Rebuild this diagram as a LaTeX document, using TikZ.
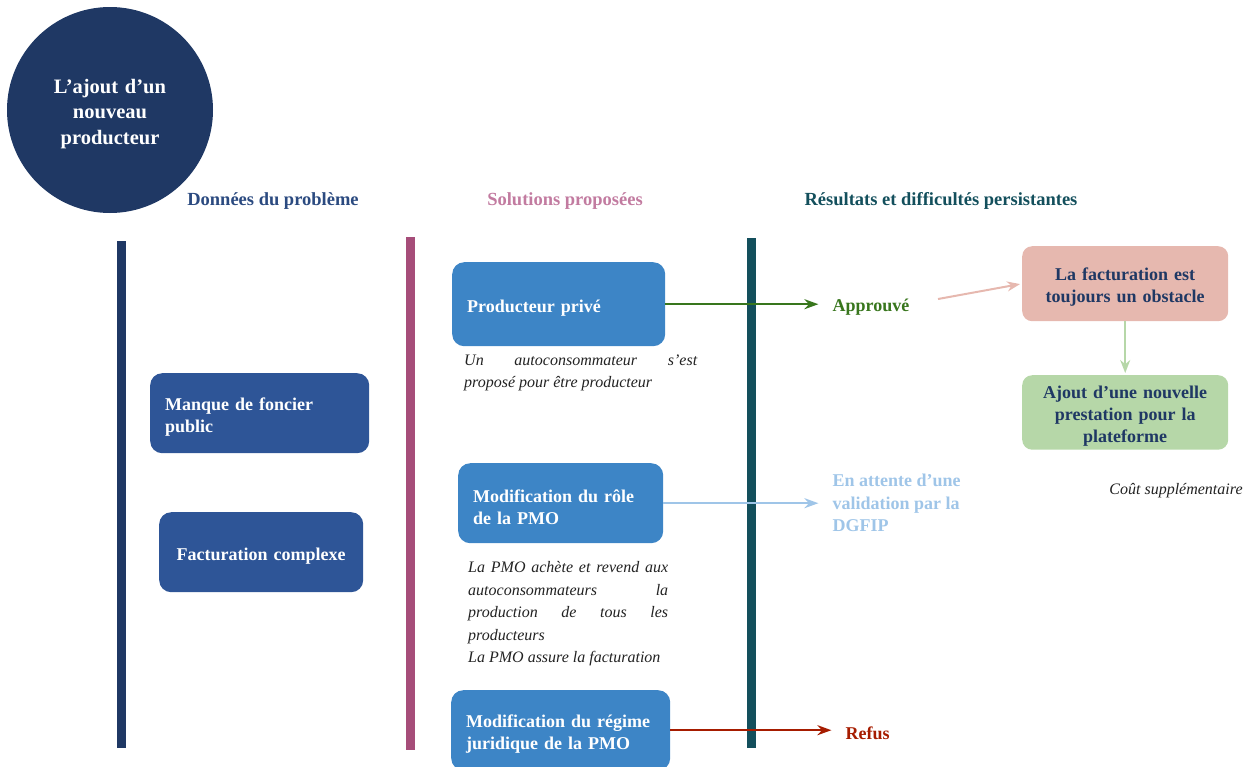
\documentclass[tikz,border=0pt]{standalone}
\usepackage{fontspec}
\setmainfont{Liberation Serif}
\usepackage{xcolor}
\usepackage{tikz}
\usetikzlibrary{arrows.meta, positioning}
\definecolor{pmnavy}{HTML}{1F3864}
\definecolor{pmhead}{HTML}{2B4A80}
\definecolor{pmblue}{HTML}{2E5597}
\definecolor{pmsky}{HTML}{3D85C6}
\definecolor{pmpink}{HTML}{A64D79}
\definecolor{pmrose}{HTML}{C27BA0}
\definecolor{pmteal}{HTML}{134F5C}
\definecolor{pmgreen}{HTML}{38761D}
\definecolor{pmlight}{HTML}{9FC5E8}
\definecolor{pmred}{HTML}{A61C00}
\definecolor{pmsalmon}{HTML}{E6B8AF}
\definecolor{pmmint}{HTML}{B6D7A8}
\definecolor{pmink}{HTML}{222222}

\begin{document}
\begin{tikzpicture}[x=1pt, y=-1pt,
        box/.style={rounded corners=12pt, anchor=north west, inner xsep=15pt, text=white,
          font=\fontsize{18}{22}\selectfont\bfseries, align=left,
          execute at begin node={\rule{0pt}{20pt}}},
        head/.style={font=\fontsize{18.5}{22}\selectfont\bfseries, inner sep=0pt, yshift=-2pt},
        result/.style={font=\fontsize{18}{22.5}\selectfont\bfseries, inner sep=0pt, align=left,
          execute at begin node={\rule{0pt}{18pt}}},
        note/.style={font=\fontsize{16}{22.5}\selectfont\itshape, text=pmink, inner sep=0pt},
        bar/.style={line width=9pt},
        arr/.style={-{Stealth[length=14pt,width=10pt]}, line width=2.5pt},
        thin/.style={-{Stealth[length=13pt,width=10pt]}, line width=2pt}]
        \useasboundingbox (0,0) rectangle (1244,766);
        % theme
        \node[circle, fill=pmnavy, minimum size=206pt, inner sep=0pt, text=white, align=center, text width=170pt,
          font=\fontsize{20.5}{25.5}\selectfont\bfseries, execute at begin node={\rule{0pt}{22pt}}] (theme) at (110,110) {L’ajout d’un\\nouveau\\producteur};
        % column titles
        \node[head, text=pmhead] (donnees) at (273,199) {Données du problème};
        \node[head, text=pmrose] (solutions) at (565,199) {Solutions proposées};
        \node[head, text=pmteal] (resultats) at (941,199) {Résultats et difficultés persistantes};
        % column bars
        \draw[bar, pmnavy] (121,241) -- (121,748);
        \draw[bar, pmpink] (410,237) -- (410,750);
        \draw[bar, pmteal] (751,238) -- (751,748);
        % problem
        \node[box, fill=pmblue, minimum height=80pt, text width=189pt] (foncier) at (150,373) {Manque de foncier\\public};
        \node[box, fill=pmblue, minimum height=80pt, text width=174pt, align=center] (factu) at (159,512) {Facturation complexe};
        % solutions
        \node[box, fill=pmsky, minimum height=84pt, text width=183pt] (prive) at (452,262) {Producteur privé};
        \node[box, fill=pmsky, minimum height=80pt, text width=175pt] (role) at (458,463) {Modification du rôle\\de la PMO};
        \node[box, fill=pmsky, minimum height=80pt, text width=189pt] (regime) at (451,690) {Modification du régime\\juridique de la PMO};
        \node[note, text width=233pt, align=justify, anchor=north west, below right=8pt and 12pt of prive.south west] (propose)
          {Un autoconsommateur s’est\linebreak proposé pour être producteur};
        \node[note, text width=200pt, align=justify, anchor=north west, below right=18pt and 10pt of role.south west] (achat)
          {La PMO achète et revend aux\linebreak autoconsommateurs la\linebreak production de tous les\linebreak producteurs\newline La PMO assure la facturation};
        % results
        \node[result, text=pmgreen, right=167pt of prive] (approuve) {Approuvé};
        \node[result, text=pmlight, right=169pt of role] (attente) {En attente d’une\\validation par la\\DGFIP};
        \node[result, text=pmred, right=175pt of regime] (refus) {Refus};
        \node[box, fill=pmsalmon, text=pmnavy, align=center, rounded corners=10pt, text width=176pt, minimum height=75pt] (obstacle) at (1022,246) {La facturation est\\toujours un obstacle};
        \node[box, fill=pmmint, text=pmnavy, align=center, rounded corners=10pt, text width=176pt, minimum height=74pt] (plateforme) at (1022,375) {Ajout d’une nouvelle\\prestation pour la\\plateforme};
        \node[note] (cout) at (1176,491) {Coût supplémentaire};
        \draw[arr, pmgreen, shorten >=14pt] (prive) -- (approuve);
        \draw[arr, pmlight, shorten >=14pt] (role) -- (attente);
        \draw[arr, pmred, shorten >=14pt] (regime) -- (refus);
        \draw[thin, pmsalmon, shorten <=29pt, shorten >=2pt] (approuve.east) -- (obstacle.west);
        \draw[thin, pmmint, shorten >=2pt] (obstacle) -- (plateforme);
      \end{tikzpicture}
\end{document}
